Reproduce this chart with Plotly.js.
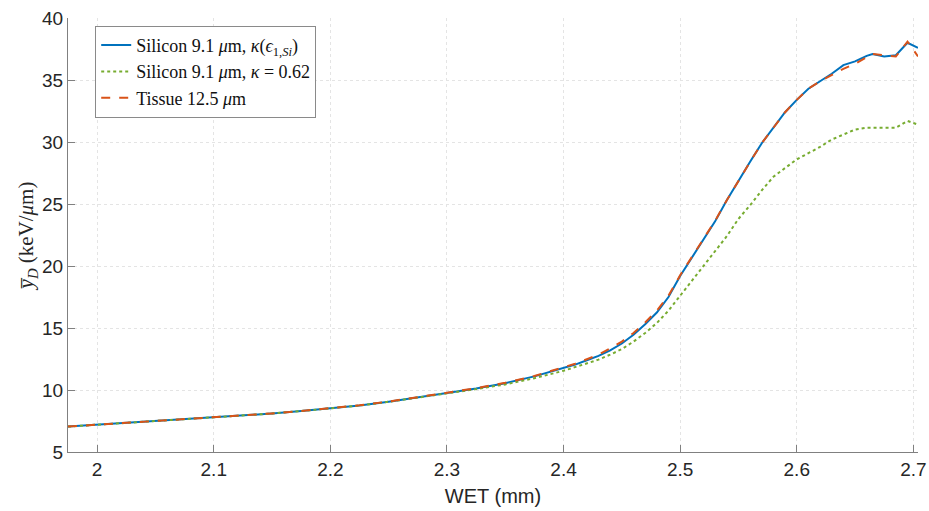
<!DOCTYPE html>
<html>
<head>
<meta charset="utf-8">
<script src="https://cdn.plot.ly/plotly-3.0.1.min.js"></script>
<style>html,body{margin:0;padding:0;background:#fff;}#chart{width:929px;height:511px;}</style>
</head>
<body>
<div id="chart"></div>
<script>
const wet = [1.975, 2.0, 2.025, 2.05, 2.075, 2.1, 2.125, 2.15, 2.175, 2.2, 2.225, 2.25, 2.275, 2.3, 2.325, 2.35, 2.375, 2.4, 2.41, 2.42, 2.43, 2.44, 2.45, 2.46, 2.47, 2.48, 2.49, 2.5, 2.51, 2.52, 2.53, 2.54, 2.55, 2.56, 2.57, 2.58, 2.59, 2.6, 2.61, 2.62, 2.63, 2.64, 2.65, 2.66, 2.665, 2.675, 2.685, 2.695, 2.704];
const siliconKappaEps = [7.05, 7.2, 7.32, 7.45, 7.6, 7.75, 7.92, 8.1, 8.3, 8.5, 8.75, 9.05, 9.38, 9.75, 10.12, 10.55, 11.1, 11.75, 12.05, 12.4, 12.75, 13.2, 13.75, 14.45, 15.3, 16.25, 17.5, 19.2, 20.7, 22.1, 23.6, 25.3, 26.9, 28.4, 29.9, 31.2, 32.4, 33.4, 34.3, 34.9, 35.5, 36.2, 36.5, 36.95, 37.1, 36.9, 37.0, 38.0, 37.6];
const siliconKappa062 = [7.05, 7.2, 7.32, 7.45, 7.6, 7.75, 7.92, 8.1, 8.3, 8.5, 8.75, 9.05, 9.37, 9.72, 10.07, 10.45, 10.95, 11.55, 11.85, 12.15, 12.45, 12.85, 13.3, 13.9, 14.6, 15.4, 16.4, 17.6, 18.8, 20.0, 21.2, 22.4, 23.8, 24.9, 26.1, 27.2, 27.9, 28.6, 29.1, 29.6, 30.2, 30.6, 31.0, 31.15, 31.15, 31.1, 31.15, 31.7, 31.4];
const tissue = [7.05, 7.2, 7.33, 7.46, 7.61, 7.76, 7.93, 8.11, 8.31, 8.52, 8.77, 9.07, 9.4, 9.78, 10.15, 10.58, 11.13, 11.8, 12.12, 12.48, 12.85, 13.35, 13.9, 14.6, 15.45, 16.4, 17.6, 19.25, 20.75, 22.15, 23.65, 25.3, 26.9, 28.4, 29.9, 31.2, 32.4, 33.4, 34.3, 34.9, 35.4, 35.9, 36.3, 36.8, 37.1, 37.0, 36.9, 38.1, 36.9];

const seriesNames = [
  'Silicon 9.1 <i>μ</i>m, <i>κ</i>(<i>ϵ</i><sub>1,<i>Si</i></sub>)',
  'Silicon 9.1 <i>μ</i>m, <i>κ</i> = 0.62',
  'Tissue 12.5 <i>μ</i>m'
];
const xTicks = [2, 2.1, 2.2, 2.3, 2.4, 2.5, 2.6, 2.7];
const yTicks = [5, 10, 15, 20, 25, 30, 35, 40];

const SANS = "'Liberation Sans', Arial, sans-serif";
const SERIF = "'Liberation Serif', 'Times New Roman', serif";

const traces = [
  {x: wet, y: siliconKappaEps, name: seriesNames[0], mode: 'lines',
   line: {color: '#0072BD', width: 2}},
  {x: wet, y: siliconKappa062, name: seriesNames[1], mode: 'lines',
   line: {color: '#77AC30', width: 2, dash: 'dot'}},
  {x: wet, y: tissue, name: seriesNames[2], mode: 'lines',
   line: {color: '#D95319', width: 2, dash: 'dash'}}
];

const axisCommon = {
  showgrid: true, gridcolor: '#e4e4e4', griddash: 'dot', gridwidth: 1,
  showline: true, linecolor: '#808080', linewidth: 1,
  ticks: 'inside', ticklen: 7, tickcolor: '#808080', tickwidth: 1,
  zeroline: false, mirror: false,
  tickfont: {family: SANS, size: 19, color: '#262626'}
};

const layout = {
  width: 929, height: 511,
  margin: {l: 68, r: 11, t: 18, b: 59},
  paper_bgcolor: '#fff', plot_bgcolor: '#fff',
  font: {family: SANS},
  showlegend: true,
  xaxis: Object.assign({}, axisCommon, {
    range: [1.975, 2.704], tickvals: xTicks, ticktext: xTicks.map(String),
    title: {text: 'WET (mm)', standoff: 10,
            font: {family: SANS, size: 20, color: '#262626'}}
  }),
  yaxis: Object.assign({}, axisCommon, {
    range: [5, 40], tickvals: yTicks, ticktext: yTicks.map(String),
    title: {text: '<i>y\u0305</i><sub><i>D</i></sub> (keV/<i>μ</i>m)', standoff: 2,
            font: {family: SERIF, size: 21, color: '#262626'}}
  }),
  legend: {
    x: 0.032, y: 0.982, xanchor: 'left', yanchor: 'top',
    bgcolor: '#ffffff', bordercolor: '#8a8a8a', borderwidth: 1,
    font: {family: SERIF, size: 18, color: '#111'},
    tracegroupgap: 0, itemwidth: 30
  }
};

Plotly.newPlot('chart', traces, layout, {displayModeBar: false, staticPlot: true});
</script>
</body>
</html>
